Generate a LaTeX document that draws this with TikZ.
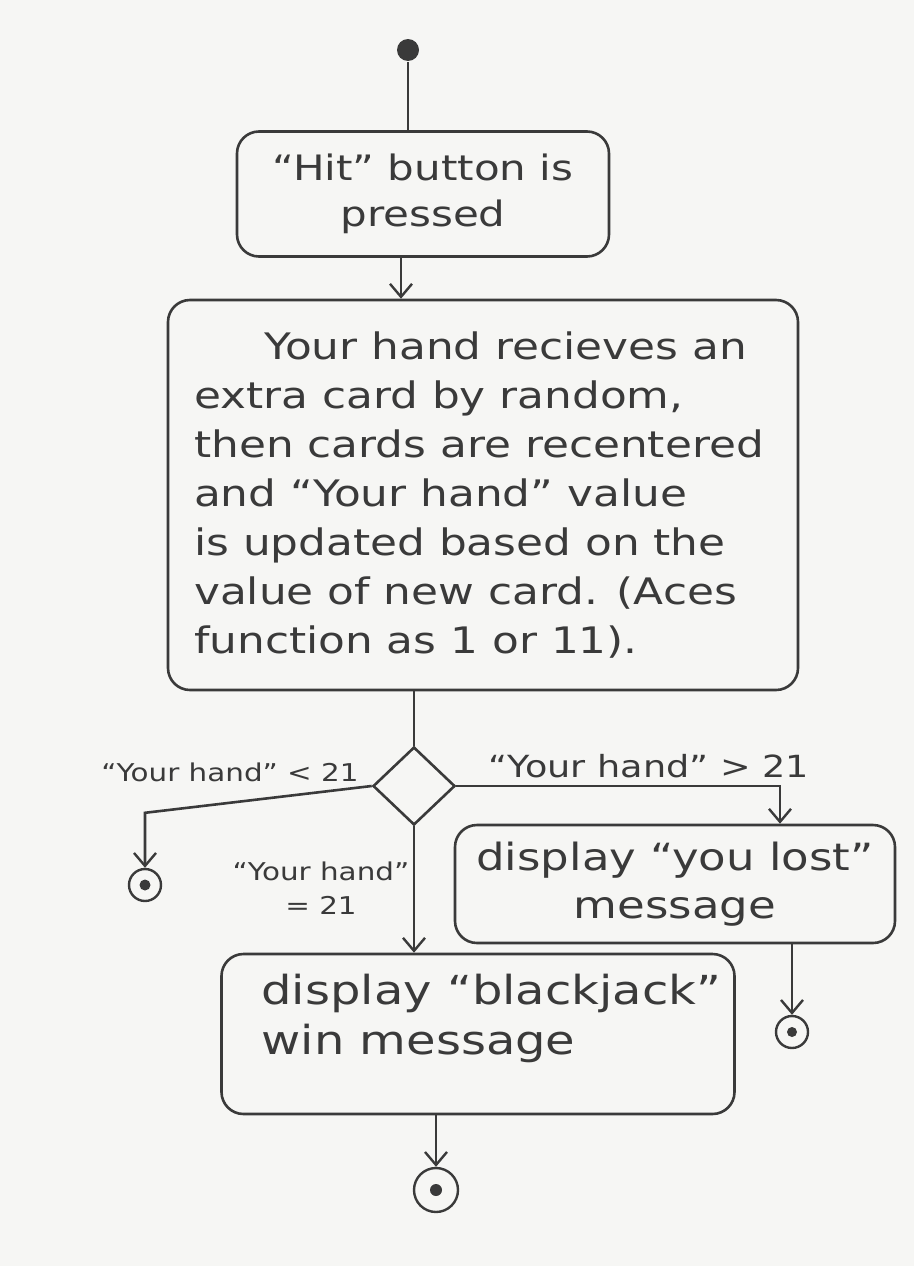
\documentclass[tikz,border=0pt]{standalone}
\usepackage{fontspec}
\setmainfont[FakeStretch=1.2]{DejaVu Sans}
\usetikzlibrary{arrows.meta,shapes.geometric,calc}
\definecolor{ink}{HTML}{3A3A3A}
\definecolor{paper}{HTML}{F6F6F4}
\begin{document}
\begin{tikzpicture}[x=1pt,y=-1pt,
  line width=2.6pt, draw=ink, color=ink,
  box/.style={draw=ink, rounded corners=22pt, inner sep=0pt},
  txt/.style={text=ink, inner sep=0pt},
  arr/.style={-{Straight Barb[length=13pt,width=22pt,line width=2.4pt]}},
  lbl/.style={text=ink, inner sep=0pt},
  endnode/.style={circle, draw=ink, line width=2.4pt, inner sep=0pt},
  dot/.style={circle, fill=ink, inner sep=0pt}
]
\fill[paper] (0,0) rectangle (914,1266);
\useasboundingbox (0,0) rectangle (914,1266);

% initial node
\node[circle, fill=ink, minimum size=22pt, inner sep=0pt] (start) at (408,50) {};

% Box 1
\node[box, txt, align=center, minimum width=372pt, minimum height=125pt,
  font=\fontsize{35}{46}\selectfont] (hit) at (423,194)
  {“Hit” button is\\pressed};

% Box 2
\node[box, minimum width=630pt, minimum height=390pt] (deal) at (483,495) {};
\node[txt, align=left, font=\fontsize{36.5}{49}\selectfont] (dealtext) at ([xshift=-4pt]deal.center)
  {\hspace*{70pt}Your hand recieves an\\
   extra card by random,\\
   then cards are recentered\\
   and “Your hand” value\\
   is updated based on the\\
   value of new card. (Aces\\
   function as 1 or 11).};

% decision
\node[diamond, draw=ink, line width=2.6pt, minimum width=82pt, minimum height=78pt, inner sep=0pt] (dec) at (414,786) {};

% Box 3
\node[box, minimum width=440pt, minimum height=118pt] (lost) at (675,884) {};
\node[txt, align=center, font=\fontsize{37.5}{48}\selectfont] (losttext) at (lost.center)
  {display “you lost”\\message};

% Box 4
\node[box, minimum width=513pt, minimum height=160pt] (win) at (478,1034) {};
\node[txt, align=left, anchor=north west, font=\fontsize{40}{50}\selectfont] (wintext)
  at ([xshift=40pt,yshift=-20pt]win.north west)
  {display “blackjack”\\win message};

% end nodes
\node[endnode, minimum size=32pt] (endl) at (145,885) {};
\node[dot, minimum size=11pt] at (endl.center) {};
\node[endnode, minimum size=32pt] (endr) at (792,1032) {};
\node[dot, minimum size=10pt] at (endr.center) {};
\node[endnode, minimum size=44pt] (endb) at (436,1190) {};
\node[dot, minimum size=12pt] at (endb.center) {};

% connectors
\draw (start) -- (hit.north -| start);
\draw[arr] ([xshift=-22pt]hit.south) -- ([xshift=-22pt]hit.south |- deal.north);
\draw (dec.north |- deal.south) -- (dec.north);
\draw[arr] (dec.west) -- ($(endl.north)+(0,-55)$) -- (endl.north);
\draw[arr] (dec.east) -| ([xshift=105pt]lost.north);
\draw[arr] (dec.south) -- (dec.south |- win.north);
\draw[arr] (endr.north |- lost.south) -- (endr.north);
\draw[arr] (endb.north |- win.south) -- (endb.north);

% guard labels
\node[lbl, font=\fontsize{24.5}{30}\selectfont] (lt) at (230,772) {“Your hand” < 21};
\node[lbl, font=\fontsize{30.5}{32}\selectfont] (gt) at (649,766) {“Your hand” > 21};
\node[lbl, align=center, font=\fontsize{24.5}{34}\selectfont] (eq) at (321,888) {“Your hand”\\= 21};
\end{tikzpicture}
\end{document}
